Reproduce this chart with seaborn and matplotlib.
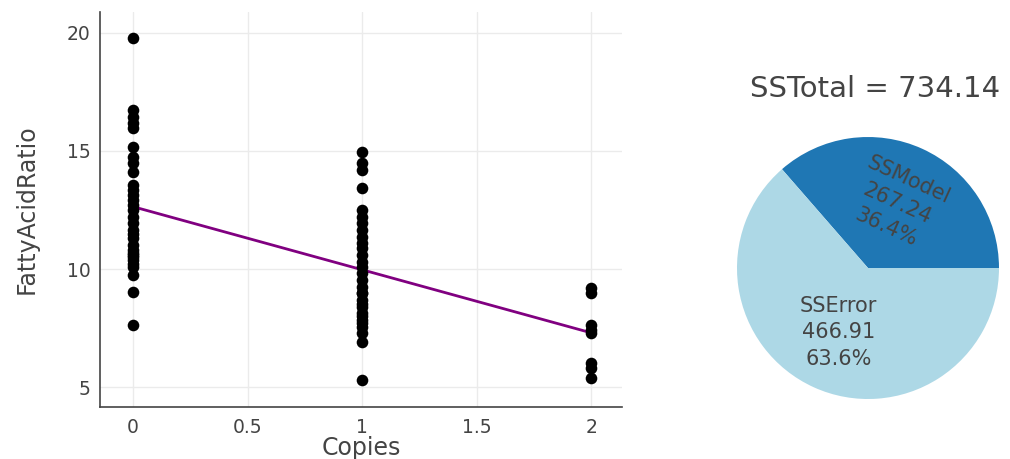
import numpy as np
import pandas as pd
import matplotlib
matplotlib.use("Agg")
import matplotlib.pyplot as plt
import seaborn as sns

# values, one list per Copies group
# (a few repeats where the markers overlap in dense parts of a column)
ratio_copies0 = [19.78, 16.74, 16.45, 16.2, 15.96, 15.18, 14.76, 14.48, 14.12,
                 13.56, 13.35, 13.14, 12.92, 12.71, 12.5, 12.22, 11.94, 11.65,
                 11.5, 11.3, 11.0, 10.8, 10.7, 10.59, 10.5, 10.38, 10.2, 10.1,
                 9.75, 9.04, 7.63]
ratio_copies1 = [14.97, 14.48, 14.19, 13.42, 12.5, 12.22, 11.94, 11.65, 11.37,
                 11.09, 10.88, 10.59, 10.31, 10.1, 9.82, 9.53, 9.25, 9.0, 8.97,
                 8.69, 8.5, 8.4, 8.12, 8.0, 7.84, 7.7, 7.56, 7.27, 6.92, 5.3]
ratio_copies2 = [9.18, 8.97, 7.63, 7.42, 7.27, 6.0, 5.79, 5.37]

ss_labels = ["SSModel", "SSError"]
ss_values = [267.24, 466.91]
ss_total = 734.14
ss_colors = ["#1f77b4", "#add8e6"]

df = pd.DataFrame({
    "Copies": [0] * len(ratio_copies0) + [1] * len(ratio_copies1) + [2] * len(ratio_copies2),
    "FattyAcidRatio": ratio_copies0 + ratio_copies1 + ratio_copies2,
})

sns.set_theme(style="white")
plt.rcParams["font.family"] = ["DejaVu Sans"]
txt = "#444444"

fig = plt.figure(figsize=(10.1, 4.59), dpi=100)

# scatter + fitted line
ax = fig.add_axes([0.099, 0.113, 0.517, 0.861])
ax.grid(True, color="#ebebeb", linewidth=1)
ax.set_axisbelow(True)
sns.scatterplot(data=df, x="Copies", y="FattyAcidRatio", color="black",
                s=70, edgecolor="black", linewidth=0, ax=ax, zorder=3)
sns.regplot(data=df, x="Copies", y="FattyAcidRatio", scatter=False, ci=None,
            color="#800080", line_kws={"linewidth": 2}, ax=ax)
ax.set_xlim(-0.144, 2.135)
ax.set_ylim(4.15, 20.89)
ax.set_xticks([0, 0.5, 1, 1.5, 2])
ax.set_xticklabels(["0", "0.5", "1", "1.5", "2"])
ax.set_yticks([5, 10, 15, 20])
ax.tick_params(axis="both", length=0, labelsize=13.5, colors=txt)
ax.tick_params(axis="x", pad=8)
ax.tick_params(axis="y", pad=7)
ax.set_xlabel("Copies", fontsize=17, color=txt, labelpad=-1)
ax.set_ylabel("FattyAcidRatio", fontsize=17, color=txt, labelpad=20)
for side in ["top", "right"]:
    ax.spines[side].set_visible(False)
for side in ["left", "bottom"]:
    ax.spines[side].set_color(txt)
    ax.spines[side].set_linewidth(1.2)

# pie of sums of squares
pax = fig.add_axes([0.7297, 0.1307, 0.2594, 0.5708])
pax.pie(ss_values, colors=ss_colors, startangle=0, counterclock=True,
        wedgeprops={"linewidth": 0})
pax.set_xlim(-1, 1)
pax.set_ylim(-1, 1)
pax.set_aspect("equal")

start = 0.0
for lab, val, rot_mode in zip(ss_labels, ss_values, ["tangential", "horizontal"]):
    frac = val / ss_total
    mid = start + frac * 180
    start += frac * 360
    r = 0.54
    x = r * np.cos(np.radians(mid))
    y = r * np.sin(np.radians(mid))
    rot = mid - 90 if rot_mode == "tangential" else 0
    pax.text(x, y, f"{lab}\n{val:.2f}\n{frac * 100:.1f}%", ha="center", va="center",
             rotation=rot, rotation_mode="anchor", fontsize=15, color=txt,
             linespacing=1.4)

fig.text(0.866, 0.807, f"SSTotal = {ss_total:.2f}", ha="center", va="center",
         fontsize=21, color=txt)

fig.savefig("out.png", dpi=100)
